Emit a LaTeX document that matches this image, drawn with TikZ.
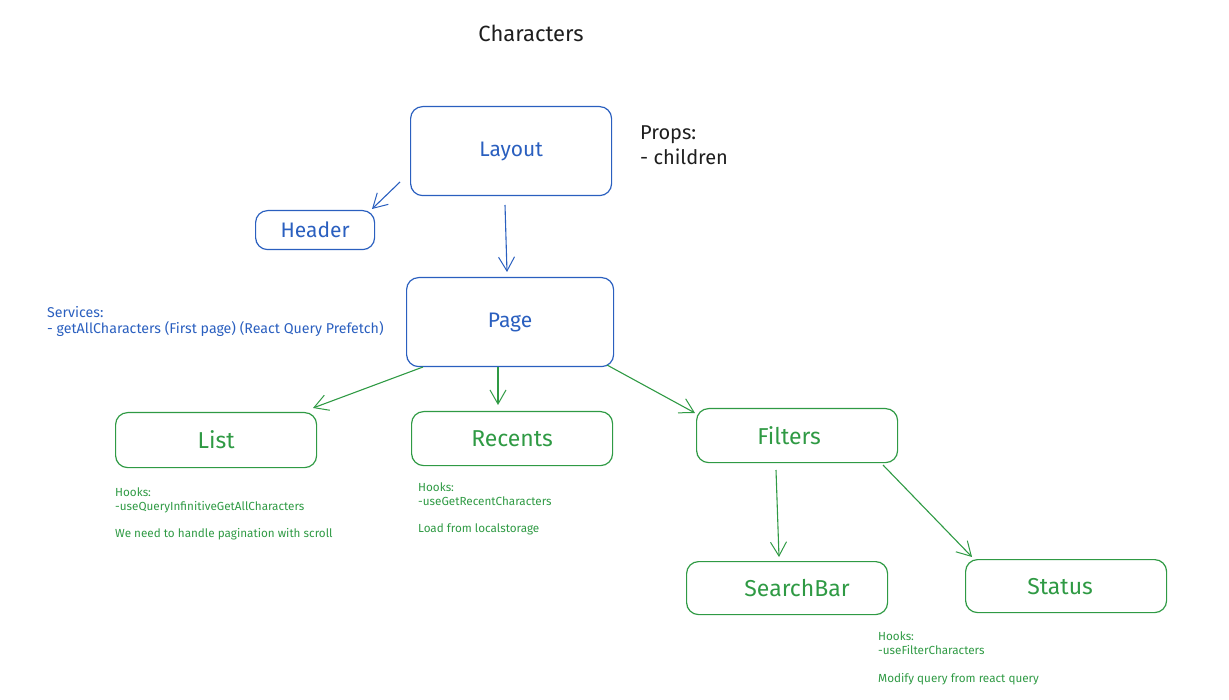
\documentclass[tikz,border=0pt]{standalone}
\usepackage{fontspec}
\setmainfont{Fira Sans}
\usetikzlibrary{arrows.meta}
\definecolor{exblue}{HTML}{2A5FBF}
\definecolor{exgreen}{HTML}{2F9A44}
\definecolor{exblack}{HTML}{1E1E1E}
\tikzset{
  box/.style={draw, rounded corners=12pt, line width=1.2pt, inner sep=0pt, anchor=north west},
  bluebox/.style={box, draw=exblue, text=exblue, font=\fontsize{21}{25}\selectfont},
  greenbox/.style={box, draw=exgreen, text=exgreen, font=\fontsize{23}{27}\selectfont},
  arr/.style={-{Straight Barb[length=14pt,width=16pt,line width=1pt]}, line width=1.1pt},
  note/.style={anchor=north west, align=left, inner sep=0pt},
  smallnote/.style={note, text=exgreen, font=\fontsize{11.7}{14}\selectfont},
}
\begin{document}
\begin{tikzpicture}[x=1pt,y=-1pt]
\useasboundingbox (0,0) rectangle (1229,700);
% title
\node[text=exblack, font=\fontsize{22}{26}\selectfont] (title) at (531,33) {Characters};
% blue boxes
\node[bluebox, minimum width=201pt, minimum height=89pt] (layout) at (410,106) {Layout};
\node[bluebox, minimum width=119pt, minimum height=39pt] (header) at (255,210) {Header};
\node[bluebox, minimum width=207pt, minimum height=89pt] (page) at (406,277) {Page};
% notes
\node[note, text=exblack, font=\fontsize{20}{25}\selectfont] (props) at (640,126) {Props:\\- children};
\node[note, text=exblue, font=\fontsize{14.2}{16}\selectfont] (services) at (47,306) {Services:\\- getAllCharacters (First page) (React Query Prefetch)};
% green boxes
\node[greenbox, minimum width=201pt, minimum height=55pt] (list) at (115,412) {List};
\node[greenbox, minimum width=201pt, minimum height=54pt] (recents) at (411,411) {Recents};
\node[greenbox, minimum width=201pt, minimum height=54pt] (filters) at (696,408) {\hspace*{-16pt}Filters};
\node[greenbox, minimum width=201pt, minimum height=53pt] (searchbar) at (686,561) {\hspace*{20pt}SearchBar};
\node[greenbox, minimum width=201pt, minimum height=53pt] (status) at (965,559) {\hspace*{-12pt}Status};
% hook notes
\node[smallnote] (listnote) at (115,488) {Hooks:\\-useQueryInfinitiveGetAllCharacters\\[13pt]We need to handle pagination with scroll};
\node[smallnote] (recnote) at (418,483) {Hooks:\\-useGetRecentCharacters\\[13pt]Load from localstorage};
\node[smallnote] (statnote) at (878,632) {Hooks:\\-useFilterCharacters\\[14pt]Modify query from react query};
% arrows
\coordinate (lh) at (400,182);
\coordinate (lp) at (505,205);
\draw[arr, exblue] (lh) -- (372,209) coordinate (eh);
\draw[arr, exblue] (lp) -- (507,272) coordinate (ep);
\coordinate (p1) at (423,367);
\coordinate (p2) at (498,367);
\coordinate (p3) at (607,365);
\draw[arr, exgreen] (p1) -- (313,408) coordinate (e1);
\draw[arr, exgreen] (p2) -- (498,405) coordinate (e2);
\draw[arr, exgreen] (p3) -- (695,413) coordinate (e3);
\coordinate (f1) at (776,470);
\coordinate (f2) at (883,465);
\draw[arr, exgreen] (f1) -- (779,557) coordinate (e4);
\draw[arr, exgreen] (f2) -- (972,557) coordinate (e5);
\end{tikzpicture}
\end{document}
